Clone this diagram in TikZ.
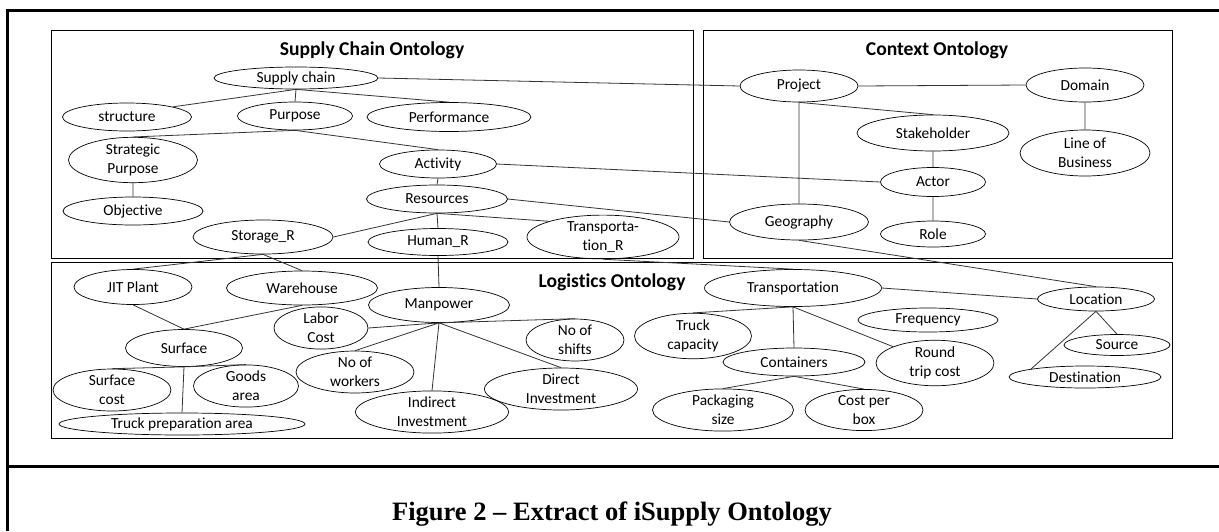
\documentclass[tikz,border=0pt]{standalone}
\usepackage{fontspec}
\setmainfont{Carlito}[Ligatures=NoCommon]
\newfontfamily\capfont{Liberation Serif}
\usetikzlibrary{shapes.geometric}
\tikzset{
  ent/.style={ellipse, draw=black, line width=0.7pt, inner sep=0pt, align=center,
    font=\fontsize{15.4}{19}\selectfont},
  link/.style={draw=black!80, line width=0.8pt},
  pane/.style={draw=black, line width=0.9pt},
  frame/.style={draw=black, line width=3pt},
  ttl/.style={font=\bfseries\fontsize{19.6}{22}\selectfont}
}
\begin{document}
\begin{tikzpicture}[x=1pt, y=-1pt]
\useasboundingbox (0,0) rectangle (1219,531);
% outer frame
\draw[frame] (7,531) -- (7,10) -- (1219,10);
\draw[frame] (7,466) -- (1219,466);
% ontology panes
\draw[pane] (51,30) rectangle (693,258);
\draw[pane] (703,30) rectangle (1172,258);
\draw[pane] (51,262) rectangle (1172,438);
\node[ttl] (t1) at (372,50) {Supply Chain Ontology};
\node[ttl] (t2) at (937,50) {Context Ontology};
\node[ttl] (t3) at (612,282) {Logistics Ontology};

% supply chain ontology
\node[ent, minimum width=164, minimum height=22] (sc) at (296,78) {Supply chain};
\node[ent, minimum width=129, minimum height=28] (struct) at (127,117) {structure};
\node[ent, minimum width=115, minimum height=28] (purp) at (295,116) {Purpose};
\node[ent, minimum width=164, minimum height=29] (perf) at (449,117) {Performance};
\node[ent, minimum width=129, minimum height=37] (sp) at (133,160) {Strategic\\Purpose};
\node[ent, minimum width=140, minimum height=28] (obj) at (133,211) {Objective};
\node[ent, minimum width=117, minimum height=28] (act) at (438,164) {Activity};
\node[ent, minimum width=141, minimum height=28] (res) at (437,199) {Resources};
\node[ent, minimum width=140, minimum height=34] (stor) at (263,237) {Storage\_R};
\node[ent, minimum width=140, minimum height=27] (hum) at (438,242) {Human\_R};
\node[ent, minimum width=152, minimum height=37] (trr) at (603,237) {Transporta-\\tion\_R};

% context ontology
\node[ent, minimum width=118, minimum height=32] (proj) at (799,86) {Project};
\node[ent, minimum width=118, minimum height=34] (dom) at (1085,85) {Domain};
\node[ent, minimum width=152, minimum height=36] (stake) at (933,133) {Stakeholder};
\node[ent, minimum width=130, minimum height=46] (lob) at (1085,153) {Line of\\Business};
\node[ent, minimum width=105, minimum height=29] (actor) at (933,182) {Actor};
\node[ent, minimum width=139, minimum height=36] (geo) at (799,222) {Geography};
\node[ent, minimum width=105, minimum height=26] (role) at (933,234) {Role};

% logistics ontology
\node[ent, minimum width=118, minimum height=35] (jit) at (133,287) {JIT Plant};
\node[ent, minimum width=151, minimum height=34] (wh) at (302,288) {Warehouse};
\node[ent, minimum width=141, minimum height=35] (man) at (439,305) {Manpower};
\node[ent, minimum width=94, minimum height=37] (labor) at (321,328) {Labor\\Cost};
\node[ent, minimum width=117, minimum height=37] (surf) at (184,348) {Surface};
\node[ent, minimum width=118, minimum height=35] (work) at (355,372) {No of\\workers};
\node[ent, minimum width=118, minimum height=35] (scost) at (112,390) {Surface\\cost};
\node[ent, minimum width=105, minimum height=36] (goods) at (246,386) {Goods\\area};
\node[ent, minimum width=246, minimum height=22] (tpa) at (182,424) {Truck preparation area};
\node[ent, minimum width=98, minimum height=36] (shift) at (575,340) {No of\\shifts};
\node[ent, minimum width=153, minimum height=35] (dinv) at (561,389) {Direct\\Investment};
\node[ent, minimum width=153, minimum height=36] (iinv) at (432,412) {Indirect\\Investment};
\node[ent, minimum width=117, minimum height=36] (tcap) at (693,336) {Truck\\capacity};
\node[ent, minimum width=177, minimum height=37] (trans) at (793,288) {Transportation};
\node[ent, minimum width=140, minimum height=24] (freq) at (928,320) {Frequency};
\node[ent, minimum width=142, minimum height=28] (cont) at (794,362) {Containers};
\node[ent, minimum width=118, minimum height=38] (rtc) at (935,363) {Round\\trip cost};
\node[ent, minimum width=141, minimum height=34] (pack) at (723,410) {Packaging\\size};
\node[ent, minimum width=118, minimum height=37] (cpb) at (864,410) {Cost per\\box};
\node[ent, minimum width=117, minimum height=24] (loc) at (1096,299) {Location};
\node[ent, minimum width=106, minimum height=21] (src) at (1117,345) {Source};
\node[ent, minimum width=152, minimum height=22] (dest) at (1085,377) {Destination};

% relations
\path[link]
  (sc.south) -- (struct.north east)
  (sc.south) -- (purp.north)
  (sc.south) -- (perf.north)
  (sc.east) -- (proj.west)
  (purp.south) -- (sp.north)
  (purp.south) -- (act.north)
  (sp.south) -- (obj.north)
  (act.south) -- (res.north)
  (act.east) -- (actor.west)
  (res.south) -- (stor.east)
  (res.south) -- (hum.north)
  (res.south) -- (trr.north west)
  (res.east) -- (geo.west)
  (proj.east) -- (dom.west)
  (proj.south) -- (stake.north)
  (proj.south) -- (geo.north)
  (stake.south) -- (actor.north)
  (actor.south) -- (role.north)
  (dom.south) -- (lob.north)
  (geo.south) -- (loc.north)
  (stor.south) -- (jit.north)
  (stor.south) -- (wh.north)
  (hum.south) -- (man.north)
  (trr.south) -- (trans.north)
  (jit.south) -- (surf.north)
  (wh.south) -- (surf.north)
  (surf.south) -- (scost.north)
  (surf.south) -- (goods.north)
  (surf.south) -- (tpa.north)
  (man.south) -- (labor.east)
  (man.south) -- (work.north)
  (man.south) -- (iinv.north)
  (man.south) -- (dinv.north)
  (man.south) -- (shift.north)
  (trans.south) -- (tcap.north)
  (trans.south) -- (cont.north)
  (trans.south) -- (rtc.north west)
  (trans.east) -- (loc.west)
  (cont.south) -- (pack.north)
  (cont.south) -- (cpb.north)
  (loc.south) -- (src.north)
  (loc.south) -- (dest.north west);

% caption
\node[font=\capfont\bfseries\fontsize{26.5}{28}\selectfont] (cap) at (612,514) {Figure 2 – Extract of iSupply Ontology};
\end{tikzpicture}
\end{document}
